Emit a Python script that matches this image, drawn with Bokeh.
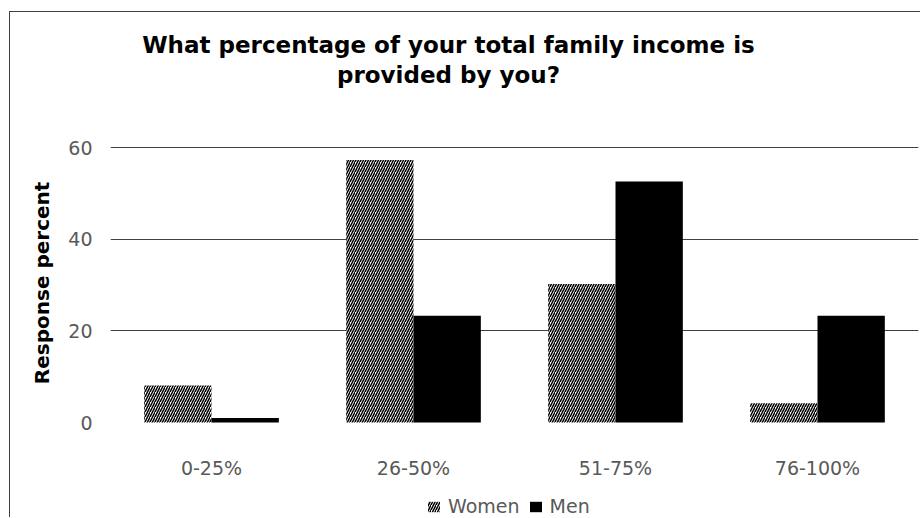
from bokeh.plotting import figure
from bokeh.models import (FactorRange, Range1d, FixedTicker, Label, Legend,
                          LegendItem, ColumnDataSource)
from bokeh.transform import dodge
from bokeh.embed import file_html
from bokeh.resources import INLINE
from bokeh.core.properties import value

categories = ["0-25%", "26-50%", "51-75%", "76-100%"]
women = [8.1, 57.3, 30.2, 4.2]
men = [1.0, 23.3, 52.6, 23.3]
y_ticks = [0, 20, 40, 60]
grid_ticks = [20, 40, 60]
title_lines = ["What percentage of your total family income is", "provided by you?"]
y_label = "Response percent"
series_names = ["Women", "Men"]

# page geometry (px, page coordinates)
PAGE_W, PAGE_H = 921, 518
OX, OY = 10, 12            # canvas origin (inside the chart border)
W, H = PAGE_W - OX, PAGE_H - OY
FL, FR = 110, 918          # frame left/right on page
Y0, Y60 = 422, 147         # page rows of value 0 and 60
PPU = (Y0 - Y60) / 60.0
CAT_W = (FR - FL) / len(categories)

def ydata(py):
    return (Y0 - py) / PPU

def xdata(px):
    return (px - FL) / CAT_W

FONT = "DejaVu Sans"
GREY = "#595959"

src = ColumnDataSource(dict(cat=categories, women=women, men=men,
                            lab_y=[ydata(467)] * len(categories)))

p = figure(width=W, height=H, x_range=FactorRange(*categories),
           y_range=Range1d(ydata(PAGE_H), ydata(OY)), output_backend="svg",
           toolbar_location=None, min_border_left=FL - OX,
           min_border_right=PAGE_W - FR, min_border_top=0, min_border_bottom=0)
p.margin = (OY - 1, 0, 0, OX - 1)
p.styles = {"border-top": "1px solid #404040", "border-left": "1px solid #404040"}
p.outline_line_color = None
p.background_fill_color = "white"
p.border_fill_color = "white"

# category labels drawn as text at the category positions
p.xaxis.visible = False
p.text(x="cat", y="lab_y", text="cat", source=src, text_align="center",
       text_baseline="middle", text_font=value(FONT), text_font_size="19px",
       text_color=GREY)

p.yaxis.ticker = FixedTicker(ticks=y_ticks)
p.yaxis.axis_line_color = None
p.yaxis.major_tick_line_color = None
p.yaxis.minor_tick_line_color = None
p.yaxis.major_tick_out = 0
p.yaxis.major_tick_in = 0
p.yaxis.major_label_standoff = 18
p.yaxis.major_label_text_font = FONT
p.yaxis.major_label_text_font_size = "19px"
p.yaxis.major_label_text_color = GREY
# no-break spaces shift the visible label down to centre on the value band
p.yaxis.axis_label = y_label + "\u00a0" * 5
p.yaxis.axis_label_text_font = FONT
p.yaxis.axis_label_text_font_style = "bold"
p.yaxis.axis_label_text_font_size = "20px"
p.yaxis.axis_label_text_color = "black"
p.yaxis.axis_label_standoff = 11

p.xgrid.grid_line_color = None
p.ygrid.ticker = FixedTicker(ticks=grid_ticks)
p.ygrid.grid_line_color = "#404040"
p.ygrid.grid_line_width = 1

# bars
rw = p.vbar(x=dodge("cat", -1/6, range=p.x_range), top="women", width=1/3,
            source=src, fill_color="white", line_color=None,
            hatch_pattern="/", hatch_color="black", hatch_scale=5,
            hatch_weight=1.5)
rm = p.vbar(x=dodge("cat", 1/6, range=p.x_range), top="men", width=1/3,
            source=src, fill_color="black", line_color=None)

legend = Legend(items=[LegendItem(label=series_names[0], renderers=[rw]),
                       LegendItem(label=series_names[1], renderers=[rm])],
                orientation="horizontal", location=(316, 1),
                border_line_color=None, background_fill_alpha=0,
                label_text_font=FONT, label_text_font_size="19px",
                label_text_color=GREY, glyph_width=15, glyph_height=13,
                spacing=8, label_standoff=7, padding=0, margin=0)
p.add_layout(legend, "center")

# two-line title centred at x ~ 448px
for line, py in zip(title_lines, [44, 74]):
    p.add_layout(Label(x=xdata(448), y=ydata(py), text=line,
                       text_align="center", text_baseline="middle",
                       text_font=FONT, text_font_style="bold",
                       text_font_size="23px", text_color="black"))

open("out.html", "w").write(file_html(p, INLINE))
